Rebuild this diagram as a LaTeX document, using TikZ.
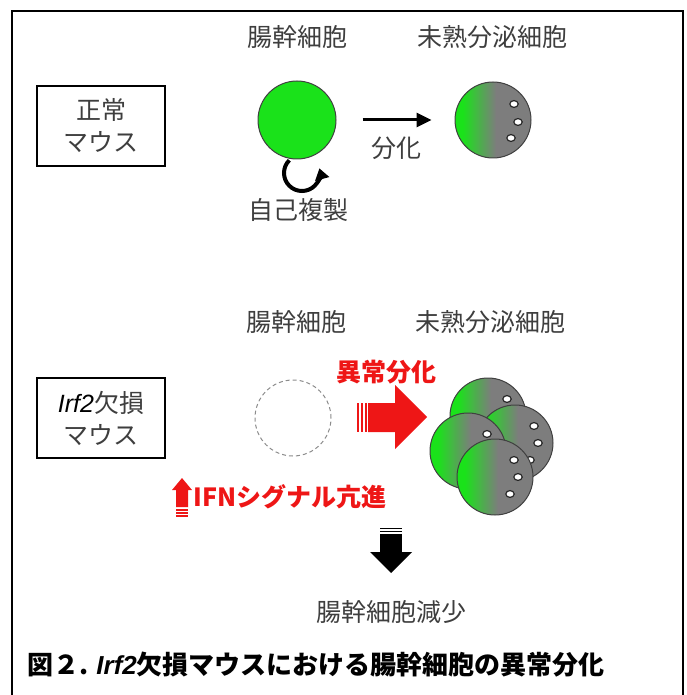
\documentclass[tikz,border=0pt]{standalone}
\usepackage{fontspec}
\newfontfamily\jp{Noto Sans CJK JP}
\newfontfamily\lat{Liberation Sans}
\usetikzlibrary{calc,arrows.meta}

\definecolor{cellgreen}{RGB}{26,226,26}
\definecolor{cellgray}{RGB}{125,125,125}
\definecolor{txtgray}{RGB}{62,62,62}
\definecolor{alarm}{RGB}{238,22,22}
\pgfdeclarehorizontalshading{cellfade}{100bp}{color(0bp)=(cellgreen); color(30bp)=(cellgreen); color(52bp)=(cellgray); color(100bp)=(cellgray)}

\begin{document}
\begin{tikzpicture}[x=0.5pt, y=-0.5pt,
    lbl/.style={font=\jp\fontsize{12.5}{16}\selectfont, text=txtgray, inner sep=0pt},
    redlbl/.style={font=\jp\bfseries\fontsize{12.5}{16}\selectfont, text=alarm, inner sep=0pt},
    mousebox/.style={lbl, draw=black, line width=0.8pt, minimum width=64pt, minimum height=40pt, align=center},
    stemcell/.style={circle, draw=black!75, line width=0.5pt, fill=cellgreen, minimum size=39pt, inner sep=0pt},
    immcell/.style={circle, draw=black!75, line width=0.5pt, shade, shading=cellfade, minimum size=38pt, inner sep=0pt},
    dot/.style={fill=white, draw=black!85, line width=0.6pt}]
    \useasboundingbox (0,0) rectangle (686,695);

    % Frame, open at the bottom.
    \draw[line width=1pt] (12,695) -- (12,11) -- (683,11) -- (683,695);

    % Normal mouse.
    \node[mousebox] (box1) at (101,126) {正常\\マウス};
    \node[lbl] (head1) at (297,37) {腸幹細胞};
    \node[lbl] (head2) at (492,37) {未熟分泌細胞};
    \node[stemcell] (stem1) at (297,120) {};
    \node[immcell] (imm1) at (493,120) {};
    \foreach \dx/\dy in {21/-16, 25/2, 18/18}
        \filldraw[dot] (imm1) ++(\dx,\dy) ellipse (2.1pt and 1.7pt);
    \draw[line width=1.5pt, -{Triangle[length=7.5pt, width=7pt]}, shorten <=13pt, shorten >=11.5pt] (stem1) -- (imm1);
    \node[lbl] (diff) at (396,148) {分化};

    \coordinate (loop) at (302,173);
    \draw[line width=2pt, -{Triangle[length=5.5pt, width=7pt]}] (loop) ++(135:9pt) arc[start angle=135, end angle=375, radius=9pt];
    \node[lbl] (renew) at (298,210) {自己複製};

    % Irf2 knockout mouse.
    \node[mousebox] (box2) at (101,418) {{\lat\itshape\color{black}Irf2}欠損\\マウス};
    \node[lbl] (head3) at (296,322) {腸幹細胞};
    \node[lbl] (head4) at (490,322) {未熟分泌細胞};
    \node[circle, draw=black!45, dash pattern=on 2pt off 1.5pt, line width=0.5pt, minimum size=38pt] (stem2) at (293,418) {};

    % Cluster of immature cells.
    \foreach \n/\cx/\cy in {c1/488/416, c2/515/443, c3/468/451, c4/495/477} {
        \node[immcell] (\n) at (\cx,\cy) {};
        \foreach \dx/\dy in {19/-17, 23/0, 15/17}
            \filldraw[dot] (\n) ++(\dx,\dy) ellipse (2.1pt and 1.7pt);
    }

    % Fat red arrow.
    \fill[alarm] (368,403) -- (395,403) -- (395,385) -- (427,417) -- (395,449) -- (395,432) -- (368,432) -- cycle;
    \foreach \x in {357,361,365}
        \fill[alarm] (\x,403) rectangle ++(2,29);
    \node[redlbl] (abn) at (386,372) {異常分化};

    % Small red arrow.
    \fill[alarm] (176,507) -- (176,490) -- (172,490) -- (182,478) -- (192,490) -- (188,490) -- (188,507) -- cycle;
    \foreach \y in {509,512,515}
        \fill[alarm] (176,\y) rectangle ++(12,1.5);
    \node[redlbl, anchor=west] (ifn) at (193,497) {IFNシグナル亢進};

    % Down arrow.
    \fill (380,534) rectangle (402,552);
    \fill (370,552) -- (412,552) -- (391,573) -- cycle;
    \foreach \y in {527.5,530.5}
        \fill (380,\y) rectangle ++(22,1.5);
    \node[lbl] (loss) at (391,612) {腸幹細胞減少};

    % Caption.
    \node[anchor=west, inner sep=0pt, font=\jp\bfseries\fontsize{13}{16}\selectfont] (cap) at (27,665)
        {図２. {\lat\bfseries\itshape Irf2}欠損マウスにおける腸幹細胞の異常分化};
\end{tikzpicture}
\end{document}
